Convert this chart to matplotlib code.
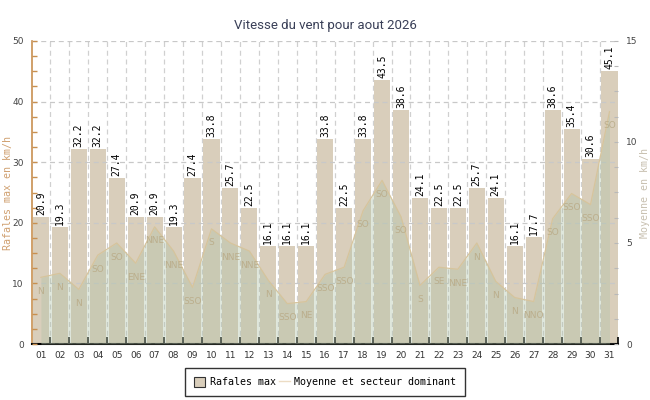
import matplotlib
matplotlib.use("Agg")
import matplotlib.pyplot as plt
from matplotlib.ticker import MultipleLocator, FixedLocator
from matplotlib.patches import Patch
from matplotlib.lines import Line2D

days = list(range(1, 32))
day_labels = [f"{d:02d}" for d in days]
gusts = [20.9, 19.3, 32.2, 32.2, 27.4, 20.9, 20.9, 19.3, 27.4, 33.8, 25.7, 22.5,
         16.1, 16.1, 16.1, 33.8, 22.5, 33.8, 43.5, 38.6, 24.1, 22.5, 22.5, 25.7,
         24.1, 16.1, 17.7, 38.6, 35.4, 30.6, 45.1]
mean_wind = [3.3, 3.5, 2.7, 4.4, 5.0, 4.0, 5.8, 4.6, 2.8, 5.7, 5.0, 4.6,
             3.15, 2.0, 2.1, 3.45, 3.8, 6.6, 8.1, 6.3, 2.9, 3.8, 3.7, 5.0,
             3.1, 2.3, 2.1, 6.2, 7.45, 6.9, 11.5]
directions = ["N", "N", "N", "SO", "SO", "ENE", "NNE", "NNE", "SSO", "S", "NNE", "NNE",
              "N", "SSO", "NE", "SSO", "SSO", "SO", "SO", "SO", "S", "SE", "NNE", "N",
              "N", "N", "NNO", "SO", "SSO", "SSO", "SO"]

mono = "DejaVu Sans Mono"
fig = plt.figure(figsize=(6.5, 4.0), dpi=100)
ax = fig.add_axes([32/650, 1-344/400, (618-32)/650, (344-41)/400])
ax.set_zorder(1)

bar_color = "#d9cebb"
ax.bar(days, gusts, width=0.85, color=bar_color, zorder=2)
ax.set_xlim(0.53, 31.45)
ax.set_ylim(0, 50)

for d, g in zip(days, gusts):
    ax.annotate(f"{g:.1f}", (d, g), xytext=(0, 2), textcoords="offset pixels",
                rotation=90, ha="center", va="bottom", fontsize=7,
                family=mono, color="black", zorder=5)

# grid
ax.yaxis.set_major_locator(MultipleLocator(10))
ax.yaxis.set_minor_locator(MultipleLocator(2.5))
ax.grid(axis="y", which="major", color="#c8c8c8", linestyle=(0, (4, 3)), linewidth=0.9, zorder=3)
ax.set_axisbelow(False)
for xb in [i + 0.5 for i in days[:-1]]:
    ax.axvline(xb, color="#d0d0d0", linestyle=(0, (4, 3)), linewidth=0.9, zorder=1)

ax.xaxis.set_major_locator(FixedLocator(days))
ax.set_xticklabels(day_labels)
ax.xaxis.set_minor_locator(FixedLocator([i + 0.5 for i in days[:-1]] + [31.45]))
ax.tick_params(axis="x", which="major", length=0, labelsize=6.5, colors="#333333", pad=5)
ax.tick_params(axis="x", which="minor", length=5, width=1.2, direction="in", color="black")
ax.tick_params(axis="y", which="both", length=3.5, width=1, direction="in", color="#c89050",
               labelsize=6.5, labelcolor="#444444", pad=6)
for t in ax.get_yticklabels() + ax.get_xticklabels():
    t.set_family("DejaVu Sans")

ax.spines["top"].set_visible(False)
ax.spines["right"].set_visible(False)
ax.spines["left"].set_color("#c89050")
ax.spines["left"].set_linewidth(1.2)
ax.spines["bottom"].set_color("black")
ax.spines["bottom"].set_linewidth(1.5)

fig.text(8/650, 1-193/400, "Rafales max en km/h", family=mono, fontsize=7.2,
         color="#d0a070", rotation=90, ha="center", va="center")

# right axis: mean wind
ax2 = ax.twinx()
ax2.set_zorder(2)
ax2.patch.set_visible(False)
ax2.set_ylim(0, 15)
ax2.fill_between(days, mean_wind, 0, color="#b1c3a9", alpha=0.4, linewidth=0, zorder=2)
ax2.plot(days, mean_wind, color="#d6c49c", linewidth=0.9, zorder=3)
for d, m, dr in zip(days, mean_wind, directions):
    ax2.annotate(dr, (d, m), xytext=(0, -14), textcoords="offset pixels",
                 ha="center", va="center", fontsize=6.5, color="#bbae8c",
                 family="DejaVu Sans", zorder=4)
ax2.yaxis.set_major_locator(MultipleLocator(5))
ax2.yaxis.set_minor_locator(MultipleLocator(1.25))
ax2.tick_params(axis="y", which="both", length=3, width=0.8, direction="in", color="#b8b8b8",
                labelsize=6.5, labelcolor="#444444", pad=6)
for t in ax2.get_yticklabels():
    t.set_family("DejaVu Sans")
for s in ["top", "right", "left", "bottom"]:
    ax2.spines[s].set_visible(False)

fig.text(645/650, 1-193/400, "Moyenne en km/h", family=mono, fontsize=7.2,
         color="#c8c0b0", rotation=90, ha="center", va="center")

fig.text(325/650, 1-25/400, "Vitesse du vent pour aout 2026", ha="center", va="center",
         fontsize=9.5, family="Roboto", color="#3a4058")

handles = [Patch(facecolor=bar_color, edgecolor="#333333", linewidth=0.8),
           Line2D([0], [0], color="#ecdcc4", linewidth=1)]
leg = fig.legend(handles, ["Rafales max", "Moyenne et secteur dominant"],
                 loc="center", bbox_to_anchor=(325/650, 1-382/400), ncol=2,
                 prop={"family": mono, "size": 7.2}, frameon=True, fancybox=False,
                 edgecolor="black", handlelength=1.1, handleheight=1.1,
                 columnspacing=0.3, handletextpad=0.5, borderpad=0.85, borderaxespad=0)
leg.get_frame().set_linewidth(1.0)

fig.savefig("out.png", dpi=100)
